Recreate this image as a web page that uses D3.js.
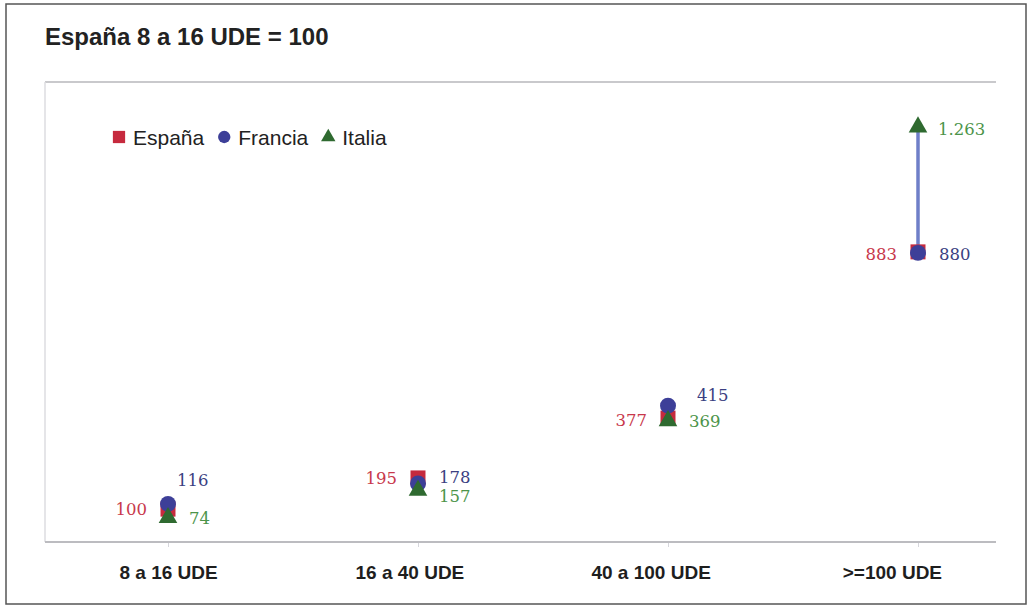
<!DOCTYPE html>
<html>
<head>
<meta charset="utf-8">
<script src="https://cdn.jsdelivr.net/npm/d3@7"></script>
<style>
  html, body { margin: 0; padding: 0; background: #fff; }
  svg { display: block; }
</style>
</head>
<body>
<svg id="chart" width="1032" height="609"></svg>
<script>
// ---- data ----
const categories = ["8 a 16 UDE", "16 a 40 UDE", "40 a 100 UDE", ">=100 UDE"];
const seriesNames = ["España", "Francia", "Italia"];
const espana  = [100, 195, 377, 883];
const francia = [116, 178, 415, 880];
const italia  = [74, 157, 369, 1263];
const valueLabels = {
  "España":  ["100", "195", "377", "883"],
  "Francia": ["116", "178", "415", "880"],
  "Italia":  ["74", "157", "369", "1.263"]
};
const titleText = "España 8 a 16 UDE = 100";

// ---- layout / style ----
const W = 1032, H = 609;
const plot = { left: 45, right: 996, top: 82, bottom: 542 };
const colors = {
  "España":  { mark: "#c62a3e", label: "#c8384c" },
  "Francia": { mark: "#3d3f98", label: "#3b3f82" },
  "Italia":  { mark: "#2f6a30", label: "#4c944a" }
};
const lineColor = "#6f7fc8";
// label placement: side (-1 left / +1 right) and small text nudges [dx, dy] per category
const labelSide = { "España": -1, "Francia": 1, "Italia": 1 };
const labelNudge = {
  "España":  [[0, 0], [0, 0], [0, 2], [0, 2]],
  "Francia": [[-12, -24], [0, -6], [8, -11], [0, 1]],
  "Italia":  [[0, 0], [0, 6], [0, 0], [-1, 2]]
};

const svg = d3.select("#chart");

// outer frame
svg.append("rect")
  .attr("x", 6).attr("y", 4).attr("width", 1020).attr("height", 600)
  .attr("fill", "#fff").attr("stroke", "#555").attr("stroke-width", 1.5);

// title
svg.append("text")
  .attr("x", 45).attr("y", 45)
  .attr("font-family", "'Liberation Sans', Arial, sans-serif")
  .attr("font-weight", "bold").attr("font-size", 24)
  .attr("fill", "#222")
  .text(titleText);

// scales
const x = d3.scalePoint().domain(categories).range([43, 1043]).padding(0.5);
const xLabel = d3.scalePoint().domain(categories).range([47.5, 1012.5]).padding(0.5);
const y = d3.scaleLinear().domain([0, 1400]).range([plot.bottom, plot.top]);

// plot frame lines
svg.append("line").attr("x1", plot.left).attr("x2", plot.right)
  .attr("y1", plot.top).attr("y2", plot.top)
  .attr("stroke", "#c9c9cc").attr("stroke-width", 2);
svg.append("line").attr("x1", plot.left).attr("x2", plot.left)
  .attr("y1", plot.top).attr("y2", plot.bottom)
  .attr("stroke", "#dcdce0").attr("stroke-width", 1.5);

// faint ticks at marker positions
const gt = svg.append("g").attr("transform", `translate(0,${plot.bottom})`)
  .call(d3.axisBottom(x).tickSize(5).tickFormat(""));
gt.select(".domain").remove();
gt.selectAll(".tick line").attr("stroke", "#d6d6dc");

// x axis labels
const xAxis = d3.axisBottom(xLabel).tickSize(0).tickPadding(0);
const gx = svg.append("g").attr("transform", `translate(0,${plot.bottom})`).call(xAxis);
gx.select(".domain").remove();
gx.append("line").attr("x1", plot.left).attr("x2", plot.right)
  .attr("y1", 0).attr("y2", 0).attr("stroke", "#bcbcc0").attr("stroke-width", 2);
gx.selectAll(".tick text")
  .attr("y", 37).attr("dy", 0)
  .attr("font-family", "'Liberation Sans', Arial, sans-serif")
  .attr("font-weight", "bold").attr("font-size", 19)
  .attr("fill", "#1e1e1e");

// data by series
const seriesData = {
  "España": espana, "Francia": francia, "Italia": italia
};

const g = svg.append("g");

// vertical range lines per category
const ranges = categories.map((c, i) => {
  const vals = seriesNames.map(s => seriesData[s][i]);
  return { c, lo: d3.min(vals), hi: d3.max(vals) };
});
g.selectAll("line.range").data(ranges).join("line")
  .attr("class", "range")
  .attr("x1", d => x(d.c)).attr("x2", d => x(d.c))
  .attr("y1", d => y(d.lo)).attr("y2", d => y(d.hi))
  .attr("stroke", lineColor).attr("stroke-width", 3.5);

// markers
const symbols = { "España": d3.symbolSquare, "Francia": d3.symbolCircle, "Italia": d3.symbolTriangle };
const sizes = { "España": 225, "Francia": 200, "Italia": 150 };
seriesNames.forEach(s => {
  const sym = d3.symbol().type(symbols[s]).size(sizes[s]);
  g.selectAll(null).data(seriesData[s].map((v, i) => ({ v, c: categories[i] }))).join("path")
    .attr("transform", d => `translate(${x(d.c)},${y(d.v)})`)
    .attr("d", sym)
    .attr("fill", colors[s].mark);
});

// value labels
seriesNames.forEach(s => {
  const side = labelSide[s];
  g.selectAll(null).data(seriesData[s].map((v, i) => ({ v, c: categories[i], i }))).join("text")
    .attr("x", d => x(d.c) + side * 21 + labelNudge[s][d.i][0])
    .attr("y", d => y(d.v) + labelNudge[s][d.i][1])
    .attr("dy", "0.36em")
    .attr("text-anchor", side < 0 ? "end" : "start")
    .attr("font-family", "'DejaVu Serif', Georgia, serif")
    .attr("font-size", 16.5)
    .attr("fill", colors[s].label)
    .text(d => valueLabels[s][d.i]);
});

// legend
const legend = svg.append("g").attr("transform", "translate(112,137)");
let lx = 0;
seriesNames.forEach(s => {
  const sym = d3.symbol().type(symbols[s]).size(s === "Italia" ? 90 : (s === "Francia" ? 120 : 150));
  legend.append("path")
    .attr("transform", `translate(${lx + 7},0)`)
    .attr("d", sym).attr("fill", colors[s].mark);
  const t = legend.append("text")
    .attr("x", lx + 21).attr("y", 8)
    .attr("font-family", "'Liberation Sans', Arial, sans-serif")
    .attr("font-size", 21).attr("fill", "#222")
    .text(s);
  lx = lx + 21 + t.node().getComputedTextLength() + 13;
});
</script>
</body>
</html>
